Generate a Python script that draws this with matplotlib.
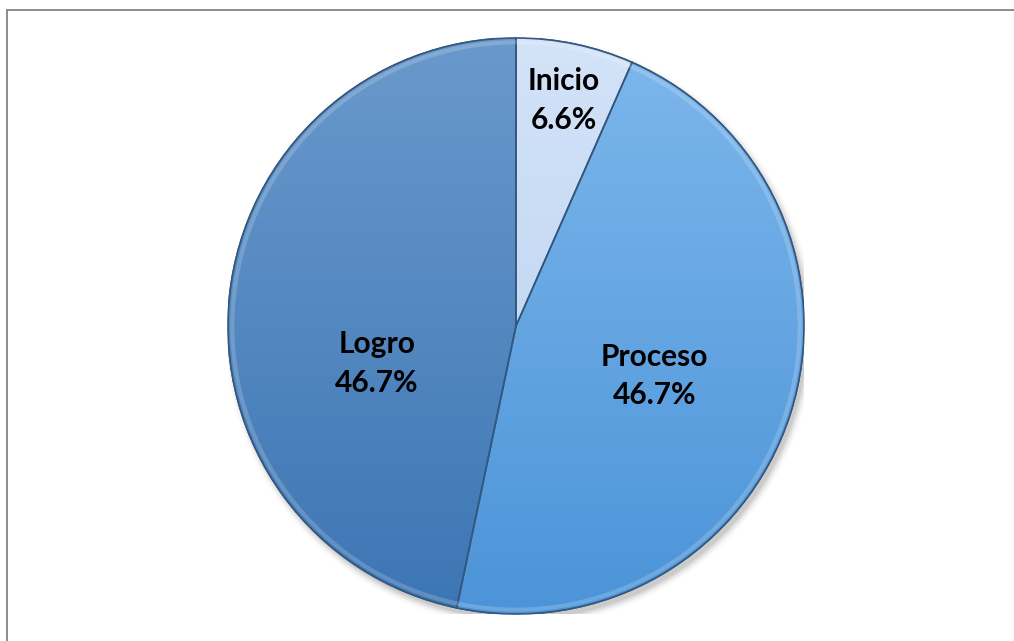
import numpy as np
import matplotlib.pyplot as plt
from matplotlib.lines import Line2D
from matplotlib.patches import Wedge
from matplotlib.colors import LinearSegmentedColormap

# data
categories = ["Inicio", "Proceso", "Logro"]
shares = [6.6, 46.7, 46.7]

# styles (top colour, bottom colour of each wedge gradient)
grad_colors = [("#d3e3f8", "#b6cfee"), ("#7db7ec", "#4c94d8"), ("#6a99cc", "#3c76b4")]
label_dist = [0.80, 0.51, 0.50]
label_turn = [0, -2, 21]  # degrees, to mimic where the labels sit

plt.rcParams['font.family'] = ['Lato', 'DejaVu Sans']

fig = plt.figure(figsize=(10.14, 6.41), dpi=100)
W, H = 1014, 641
cx, cy, r = 516, 326, 288
ax = fig.add_axes([(cx - r) / W, (H - cy - r) / H, 2 * r / W, 2 * r / H])

# soft shadow behind the pie
for i, a in enumerate(np.linspace(0.07, 0.015, 5)):
    sh = plt.Circle((0.012, -0.018), 1.0 + 0.006 * i, color="black", alpha=a, lw=0, zorder=0)
    ax.add_patch(sh)

wedges, _ = ax.pie(shares, startangle=90, counterclock=False, radius=1.0,
                   colors=[c[1] for c in grad_colors],
                   wedgeprops=dict(edgecolor="#34577e", linewidth=1.2))

grad = np.linspace(0, 1, 256).reshape(-1, 1)
for w, (top, bot) in zip(wedges, grad_colors):
    w.set_zorder(2)
    cmap = LinearSegmentedColormap.from_list("g", [top, bot])
    im = ax.imshow(grad, cmap=cmap, extent=[-1, 1, -1, 1], origin="upper",
                   aspect="auto", zorder=2.5)
    im.set_clip_path(w)
    ax.add_patch(Wedge(w.center, w.r, w.theta1, w.theta2, fill=False,
                       edgecolor="#34577e", linewidth=1.2, zorder=3))

# outer bevel highlight
ax.add_patch(plt.Circle((0, 0), 0.985, fill=False, edgecolor="white", alpha=0.18, lw=3, zorder=3))

for w, cat, val, d, t in zip(wedges, categories, shares, label_dist, label_turn):
    ang = np.deg2rad((w.theta1 + w.theta2) / 2 + t)
    ax.text(d * np.cos(ang), d * np.sin(ang), f"{cat}\n{val:.1f}%",
            ha="center", va="center", fontsize=21.5, fontweight="bold",
            color="black", linespacing=1.45, zorder=5)

ax.set_xlim(-1, 1)
ax.set_ylim(-1, 1)
ax.axis("off")

# chart area border (top and left visible)
fig.add_artist(Line2D([7 / W, 1.0], [1 - 10 / H, 1 - 10 / H], color="#8c8c8c", lw=1.4))
fig.add_artist(Line2D([7 / W, 7 / W], [1 - 10 / H, 0.0], color="#8c8c8c", lw=1.4))

fig.savefig("out.png", dpi=100)
